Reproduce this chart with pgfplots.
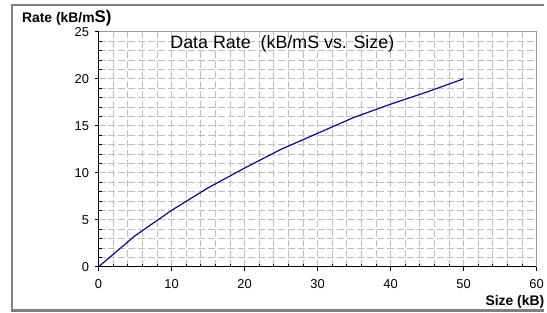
\documentclass[border=0pt]{standalone}
\usepackage{fontspec}
\setmainfont{Liberation Sans}
\usepackage{pgfplots}
\pgfplotsset{compat=1.18}
\definecolor{curve}{RGB}{10,10,140}
\definecolor{gridc}{RGB}{190,190,190}
\begin{document}
\begin{tikzpicture}
\begin{axis}[
  width=440bp, height=236bp, scale only axis,
  xmin=0, xmax=60, ymin=0, ymax=25,
  axis lines=left,
  axis line style={-, black, line width=1bp},
  xtick={0,10,...,60}, ytick={0,5,...,25},
  minor x tick num=4, minor y tick num=4,
  tick align=outside,
  major tick length=4bp, minor tick length=-3bp,
  tick style={black, line width=0.8bp},
  grid=both,
  major grid style={gridc, line width=0.8bp, dash pattern=on 7bp off 3bp},
  minor grid style={gridc, line width=0.8bp, dash pattern=on 7bp off 3bp},
  /pgf/number format/assume math mode=true,
  ticklabel style={font=\fontsize{13}{15}\selectfont},
  xticklabel style={yshift=-5bp},
  yticklabel style={xshift=-2bp},
  clip=false,
]
\addplot[curve, line width=1.2bp] coordinates {
  (0,0) (5,3.3) (10,6) (15,8.4) (20,10.5) (25,12.5) (30,14.2) (35,15.9) (40,17.3) (45,18.6) (50,20)
};
\draw[gray!80, line width=1bp] (rel axis cs:0,1) -- (rel axis cs:1,1) -- (rel axis cs:1,0);
\draw[gray, line width=2.5bp] (rel axis cs:1.018,1.114) -- (rel axis cs:-0.1977,1.114) -- (rel axis cs:-0.1977,-0.1864) -- (rel axis cs:1.018,-0.1864);
\path (rel axis cs:-0.225,-0.195) rectangle (rel axis cs:1.018,1.1356);
\node[anchor=base west, inner sep=0pt, font=\bfseries\fontsize{14}{16}\selectfont] at (rel axis cs:-0.175,1.038) {Rate (kB/m{\fontsize{17}{18}\selectfont S)}};
\node[anchor=base west, inner sep=0pt, font=\fontsize{18}{20}\selectfont] at (rel axis cs:0.1636,0.931) {Data Rate\ \ (kB/mS vs. Size)};
\node[anchor=base east, inner sep=0pt, font=\bfseries\fontsize{14}{16}\selectfont] at (rel axis cs:1.018,-0.165) {Size (kB)};
\end{axis}
\end{tikzpicture}
\end{document}
